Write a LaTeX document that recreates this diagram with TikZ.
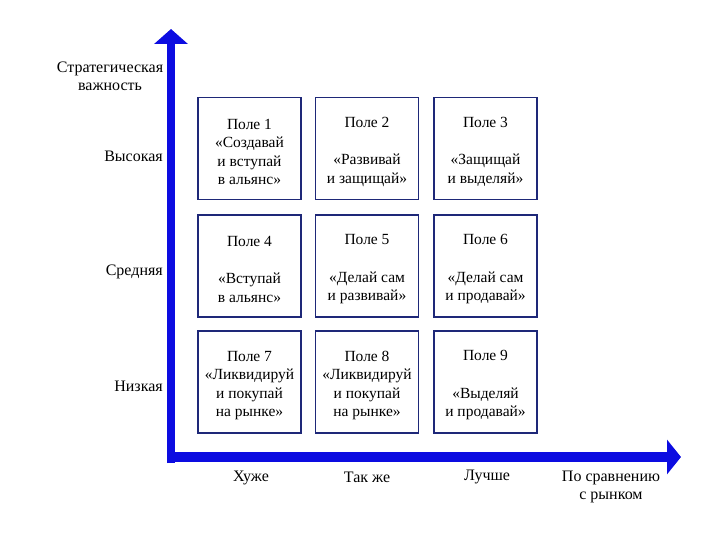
\documentclass[tikz,border=0pt]{standalone}
\usepackage{fontspec}
\setmainfont{Liberation Serif}
\usetikzlibrary{arrows.meta}
\definecolor{axisblue}{RGB}{12,12,225}
\definecolor{boxblue}{RGB}{30,40,120}
\newcommand{\topstrut}{\rule{0pt}{17pt}}
\begin{document}
\begin{tikzpicture}[x=1pt,y=-1pt,
  field/.style={draw=boxblue,line width=1.3pt,minimum width=103pt,minimum height=102pt,
    align=center,inner sep=0pt,font=\fontsize{15.5}{18.5}\selectfont},
  lbl/.style={font=\fontsize{16}{18}\selectfont,inner sep=0pt},
  axis/.style={draw=axisblue}]
\useasboundingbox (0,0) rectangle (720,540);
% fields
\node[field] (f1) at (249.5,148.5) {\topstrut Поле 1\\«Создавай\\и вступай\\в альянс»};
\node[field] (f2) at (367,148.5) {\topstrut Поле 2\\[18.5pt]«Развивай\\и защищай»};
\node[field] (f3) at (485.5,148.5) {\topstrut Поле 3\\[18.5pt]«Защищай\\и выделяй»};
\node[field] (f4) at (249.5,266) {\topstrut Поле 4\\[19pt]«Вступай\\в альянс»};
\node[field] (f5) at (367,266) {\topstrut Поле 5\\[19pt]«Делай сам\\и развивай»};
\node[field] (f6) at (485.5,266) {\topstrut Поле 6\\[19pt]«Делай сам\\и продавай»};
\node[field] (f7) at (249.5,382) {\topstrut Поле 7\\«Ликвидируй\\и покупай\\на рынке»};
\node[field] (f8) at (367,382) {\topstrut Поле 8\\«Ликвидируй\\и покупай\\на рынке»};
\node[field] (f9) at (485.5,382) {\topstrut Поле 9\\[19pt]«Выделяй\\и продавай»};
% axes
\coordinate (oc) at (167,457);
\coordinate (top) at (171,29);
\coordinate (right) at (681,457);
\draw[axis,line width=8pt,-{Triangle[width=33pt,length=15pt]}] (171,463) -- (top);
\draw[axis,line width=10pt,-{Triangle[width=34pt,length=14pt]}] (oc) -- (right);
% axis labels
\node[lbl,align=center] (yt) at (110,76) {Стратегическая\\важность};
\node[lbl,anchor=east] (hi) at (163,156) {Высокая};
\node[lbl,anchor=east] (mid) at (163,272) {Средняя};
\node[lbl,anchor=east] (lo) at (163,386) {Низкая};
\node[lbl] (c1) at (251,478) {Хуже};
\node[lbl] (c2) at (367,477) {Так же};
\node[lbl] (c3) at (487,477) {Лучше};
\node[lbl,align=center] (xt) at (611,487) {По сравнению\\с рынком};
\end{tikzpicture}
\end{document}
